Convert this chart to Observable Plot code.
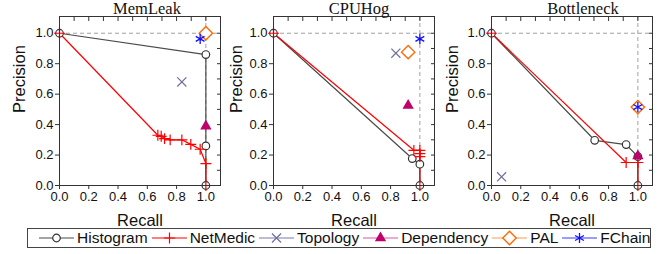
<!DOCTYPE html>
<html>
<head>
<meta charset="utf-8">
<script src="https://cdn.jsdelivr.net/npm/d3@7"></script>
<script src="https://cdn.jsdelivr.net/npm/@observablehq/plot@0.6"></script>
<style>
  html, body { margin: 0; padding: 0; background: #fff; }
  #wrap { position: relative; width: 667px; height: 254px; overflow: hidden; font-family: 'Liberation Sans', Arial, sans-serif; }
  .panel { position: absolute; top: 0; }
  #legend { position: absolute; left: 27px; top: 228px; width: 624px; height: 20px; border: 1px solid #444;
            display: flex; align-items: center; padding-left: 11px; box-sizing: border-box; font-size: 15.5px; color: #111;
            font-family: 'Liberation Sans', Arial, sans-serif; }
  #legend .item { display: flex; align-items: center; }
  #legend svg { display: block; }
  #legend span { margin-left: 3px; margin-right: 4px; white-space: nowrap; }
</style>
</head>
<body>
<div id="wrap"></div>
<script>
// ---- data (recall, precision) ----
const panelNames = ["MemLeak", "CPUHog", "Bottleneck"];
const seriesNames = ["Histogram", "NetMedic", "Topology", "Dependency", "PAL", "FChain"];
const axisTicks = [0, 0.2, 0.4, 0.6, 0.8, 1.0];
const minorTicks = [0.1, 0.2, 0.3, 0.4, 0.5, 0.6, 0.7, 0.8, 0.9, 1.0];

const histogramMemLeak = [[0, 1], [1, 0.86], [1, 0.26], [1, 0]];
const netmedicMemLeak = [[0, 1], [0.672, 0.33], [0.695, 0.323], [0.718, 0.308], [0.756, 0.30], [0.836, 0.30], [0.897, 0.27], [0.961, 0.238], [1, 0.144], [1, 0]];
const topologyMemLeak = [[0.836, 0.68]];
const dependencyMemLeak = [[1, 0.39]];
const palMemLeak = [[1, 1]];
const fchainMemLeak = [[0.961, 0.963]];

const histogramCPUHog = [[0, 1], [0.948, 0.177], [1, 0.14], [1, 0]];
const netmedicCPUHog = [[0, 1], [0.959, 0.231], [1, 0.231], [1, 0.209], [1, 0.19], [1, 0]];
const topologyCPUHog = [[0.836, 0.869]];
const dependencyCPUHog = [[0.92, 0.526]];
const palCPUHog = [[0.92, 0.876]];
const fchainCPUHog = [[1, 0.963]];

const histogramBottleneck = [[0, 1], [0.705, 0.297], [0.92, 0.269], [1, 0.19], [1, 0]];
const netmedicBottleneck = [[0, 1], [0.92, 0.151], [1, 0.151], [1, 0]];
const topologyBottleneck = [[0.069, 0.057]];
const dependencyBottleneck = [[1, 0.194]];
const palBottleneck = [[1, 0.515]];
const fchainBottleneck = [[1, 0.515]];

const panelData = [
  [histogramMemLeak, netmedicMemLeak, topologyMemLeak, dependencyMemLeak, palMemLeak, fchainMemLeak],
  [histogramCPUHog, netmedicCPUHog, topologyCPUHog, dependencyCPUHog, palCPUHog, fchainCPUHog],
  [histogramBottleneck, netmedicBottleneck, topologyBottleneck, dependencyBottleneck, palBottleneck, fchainBottleneck]
];

// ---- styling ----
const styles = [
  {line: "#4a4a4a", stroke: "#333", fill: "white", symbol: "circle", r: 3.8, sw: 1.2},
  {line: "#ff0000", stroke: "#ff0000", fill: "none", symbol: "plus", r: 3.6, sw: 1.2},
  {line: "#7a7aa8", stroke: "#6e6ea0", fill: "none", symbol: "times", r: 4.2, sw: 1.2},
  {line: "#e0559c", stroke: "none", fill: "#c0006c", symbol: "triangle", r: 4.2, sw: 1},
  {line: "#ff9a50", stroke: "#ff6a00", fill: "white", symbol: "diamond2", r: 6, sw: 1.4},
  {line: "#3a3aff", stroke: "#1010ff", fill: "none", symbol: "asterisk", r: 4.8, sw: 1.3}
];
const panelLefts = [0, 214, 432];
const titleDx = [7, 5, 11];
const precDx = [-40, -37, -39];
const sansFont = "'Liberation Sans', Arial, sans-serif";

const wrap = document.getElementById("wrap");
const fmt = d3.format(".1f");

panelNames.forEach((name, i) => {
  const data = panelData[i];
  const marks = [
    Plot.ruleY([1], {stroke: "#a0a0a0", strokeDasharray: "4,3", strokeWidth: 1}),
    Plot.ruleX([1], {stroke: "#a0a0a0", strokeDasharray: "4,3", strokeWidth: 1}),
    Plot.axisX({ticks: axisTicks, tickFormat: fmt, tickSize: 4, tickPadding: 2, label: null, fontSize: 13, stroke: "#333"}),
    Plot.axisY({ticks: axisTicks, tickFormat: fmt, tickSize: 4, tickPadding: 2, label: null, fontSize: 13, stroke: "#333"}),
    Plot.axisX({anchor: "top", ticks: minorTicks, tickSize: 4, text: null, label: null, dy: 4, stroke: "#333"}),
    Plot.axisY({anchor: "right", ticks: minorTicks, tickSize: 4, text: null, label: null, dx: -4, stroke: "#333"}),
    Plot.line(data[0], {stroke: styles[0].line, strokeWidth: 1.2}),
    Plot.line(data[1], {stroke: styles[1].line, strokeWidth: 1.2})
  ];
  data.forEach((pts, s) => {
    const st = styles[s];
    marks.push(Plot.dot(pts, {symbol: st.symbol, r: st.r, stroke: st.stroke, fill: st.fill, strokeWidth: st.sw}));
  });
  marks.push(
    Plot.frame({stroke: "#333", strokeWidth: 1}),
    Plot.text([name], {frameAnchor: "top", lineAnchor: "bottom", dy: -3, dx: titleDx[i], fontFamily: "'Liberation Serif', 'Times New Roman', serif", fontSize: 16.5, fill: "#111"}),
    Plot.text(["Precision"], {frameAnchor: "left", dx: precDx[i], dy: 12, rotate: -90, fontSize: 16.5, fill: "#111"}),
    Plot.text(["Recall"], {frameAnchor: "bottom", lineAnchor: "middle", dy: 35, fontSize: 16.5, fill: "#111"})
  );
  const chart = Plot.plot({
    width: 225, height: 228,
    marginLeft: 59, marginRight: 5, marginTop: 16, marginBottom: 43,
    x: {domain: [0, 1.1]},
    y: {domain: [0, 1.11]},
    style: {fontFamily: sansFont, fontSize: "13px", color: "#111", background: "transparent", overflow: "visible"},
    marks
  });
  chart.classList.add("panel");
  chart.style.left = panelLefts[i] + "px";
  wrap.appendChild(chart);
});

// ---- legend ----
const symbolMap = {circle: d3.symbolCircle, plus: d3.symbolPlus, times: d3.symbolTimes, triangle: d3.symbolTriangle, diamond2: d3.symbolDiamond2, asterisk: d3.symbolAsterisk};
const legend = document.createElement("div");
legend.id = "legend";
seriesNames.forEach((n, s) => {
  const st = styles[s];
  const item = document.createElement("div");
  item.className = "item";
  const sym = d3.symbol(symbolMap[st.symbol], Math.PI * st.r * st.r)();
  item.innerHTML = `<svg width="35" height="20"><line x1="0" x2="35" y1="10" y2="10" stroke="${st.line}" stroke-width="1.2"/>` +
    `<path d="${sym}" transform="translate(17.5,10)" fill="${st.fill}" stroke="${st.stroke}" stroke-width="${st.sw}"/></svg><span>${n}</span>`;
  legend.appendChild(item);
});
wrap.appendChild(legend);
</script>
</body>
</html>
